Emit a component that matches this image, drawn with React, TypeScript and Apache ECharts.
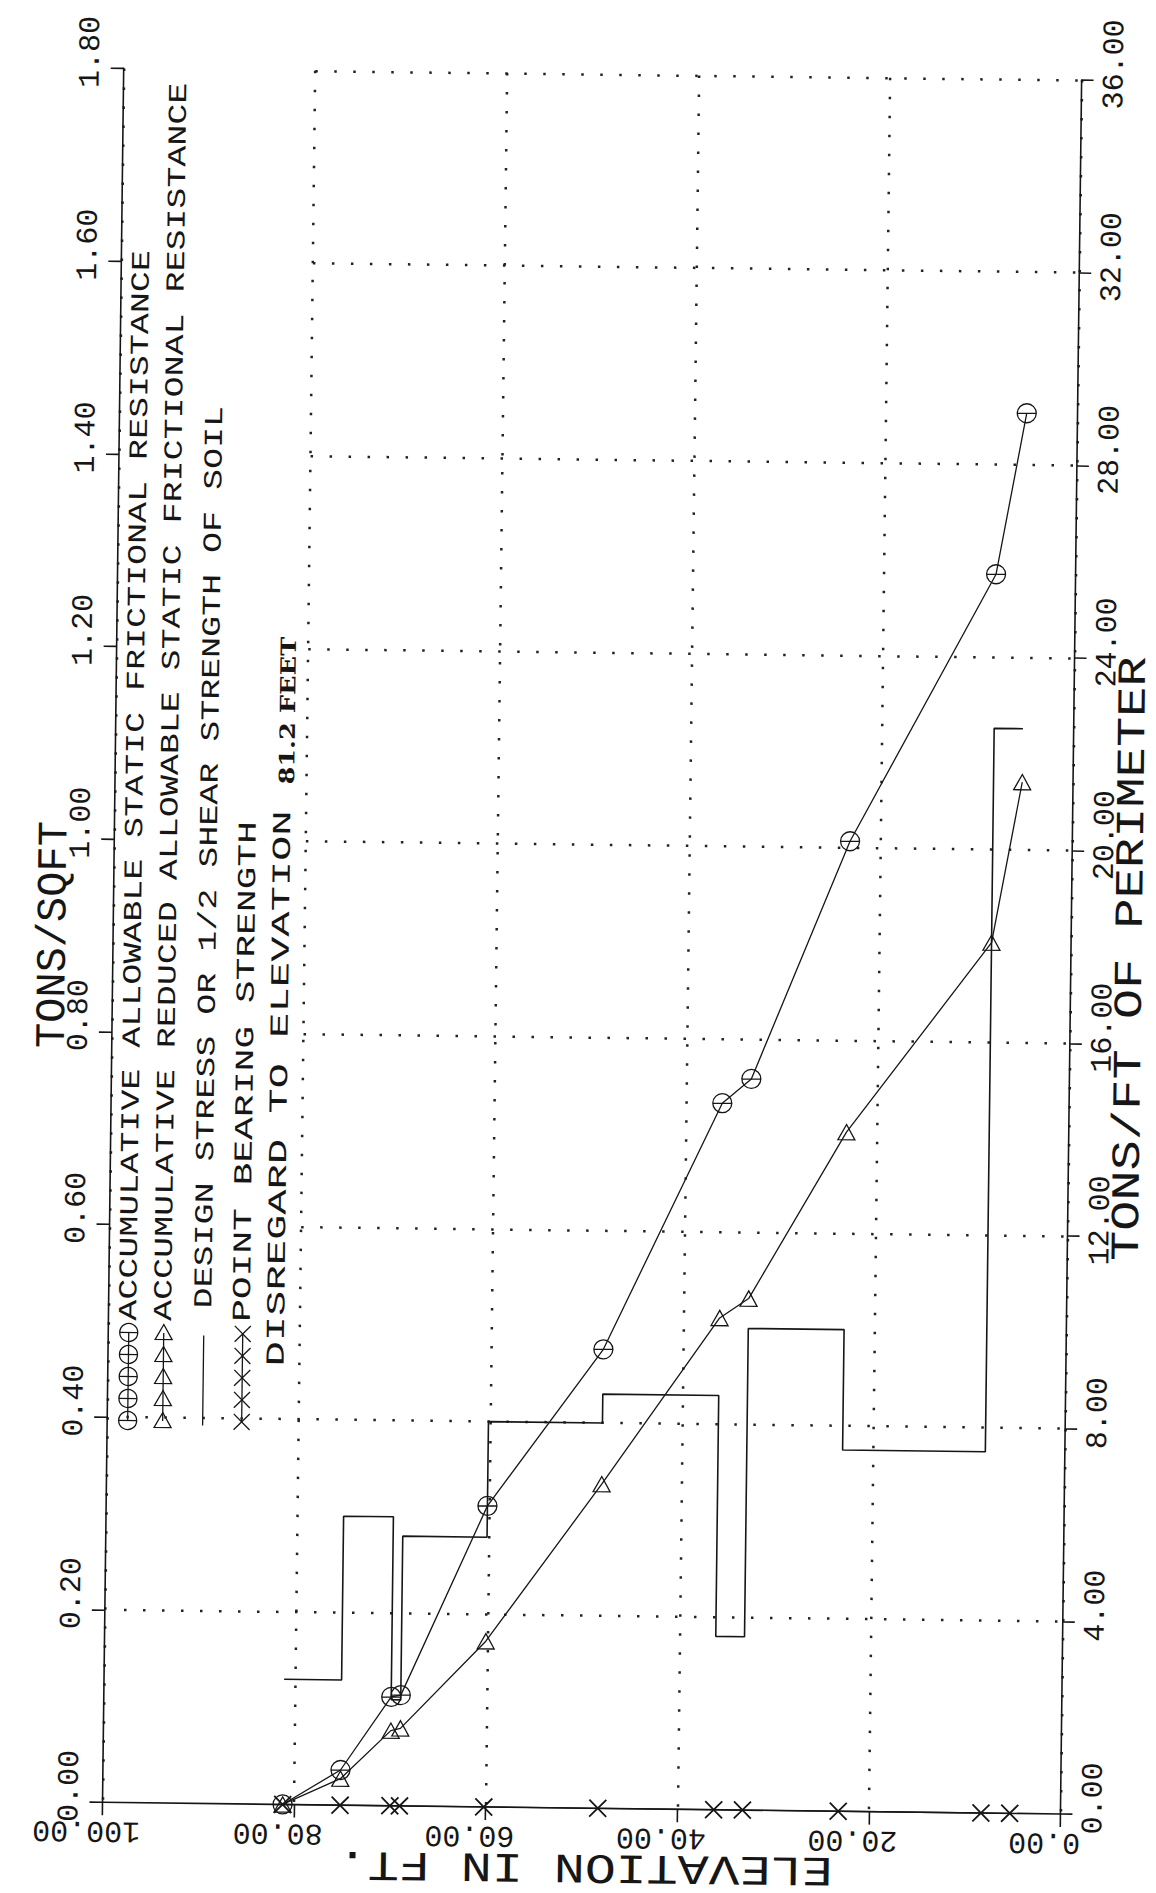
import React, { useEffect, useRef } from "react";
import * as echarts from "echarts";

// ---- data ----
// elevations (ft) of the computed layer boundaries
const elevations = [81.2, 75.2, 70.0, 69.0, 60.2, 48.3, 36.2, 33.2, 23.2, 8.3, 5.3];
// accumulative allowable static frictional resistance (tons/ft of perimeter)
const allowableFriction = [0, 0.73, 2.26, 2.3, 6.25, 9.53, 14.67, 15.18, 20.14, 25.72, 29.07];
// accumulative reduced allowable static frictional resistance (tons/ft of perimeter)
const reducedFriction = [0, 0.55, 1.56, 1.61, 3.44, 6.73, 10.21, 10.62, 14.1, 18.07, 21.41];
// point bearing strength (tons/ft of perimeter)
const pointBearing = [0, 0, 0, 0, 0, 0, 0, 0, 0, 0, 0];
// design stress or 1/2 shear strength of soil (tons/sqft), one value per layer
const designStress = [0.13, 0.3, 0.11, 0.28, 0.4, 0.43, 0.18, 0.5, 0.375, 1.126];

// ---- axes ----
const elevationTicks = [0, 20, 40, 60, 80, 100];
const perimeterTicks = [0, 4, 8, 12, 16, 20, 24, 28, 32, 36];
const sqftTicks = [0, 0.2, 0.4, 0.6, 0.8, 1.0, 1.2, 1.4, 1.6, 1.8];
const longGridRows = [4, 8];
const shortGridRows = [12, 16, 20, 24, 28, 32, 36];
const longRowStart = 98;
const shortRowStart = 80;

// ---- texts ----
const legendLabels = [
  "ACCUMULATIVE ALLOWABLE STATIC FRICTIONAL RESISTANCE",
  "ACCUMULATIVE REDUCED ALLOWABLE STATIC FRICTIONAL RESISTANCE",
  "DESIGN STRESS OR 1/2 SHEAR STRENGTH OF SOIL",
  "POINT BEARING STRENGTH",
];
const noteText = "DISREGARD TO ELEVATION";
const noteValue = "81.2 FEET";
const leftTitle = "TONS/SQFT";
const rightTitle = "TONS/FT OF PERIMETER";
const bottomTitle = "ELEVATION IN FT.";

const INK = "#161616";
const MONO = '"Liberation Mono", "DejaVu Sans Mono", monospace';

const CIRCLE_SYM = "path://M0,10A10,10,0,1,1,20,10A10,10,0,1,1,0,10ZM0,10L20,10";
const TRI_SYM = "path://M10,0L20,18L0,18Z";
const X_SYM = "path://M0,0L20,20M20,0L0,20";

function fmt(v: number) {
  return Number(v).toFixed(2);
}

function vText(x: number, y: number, text: string, fontSize: number, scale: number, align: string, family = MONO, weight = "normal", rot = Math.PI / 2) {
  return {
    type: "text",
    x,
    y,
    rotation: rot,
    scaleX: scale,
    silent: true,
    style: {
      text,
      fontSize,
      fontFamily: family,
      fontWeight: weight,
      fill: INK,
      align,
      verticalAlign: "middle",
      textAlign: align,
      textVerticalAlign: "middle",
    },
  };
}

function buildGraphic() {
  const els: any[] = [];
  const lineX = [133.5, 168.5, 208.5, 247.5, 282];
  const symY = [1426, 1404, 1382, 1360, 1338];
  const textStart = [1326, 1326, 1313, 1326];
  const textScale = [1.346, 1.346, 1.346, 1.46];
  const stroke = { stroke: INK, lineWidth: 1.3, fill: "none" };

  // line 1: circles
  els.push({ type: "line", silent: true, shape: { x1: lineX[0], y1: symY[0], x2: lineX[0], y2: symY[4] }, style: stroke });
  symY.forEach((cy) => {
    els.push({ type: "circle", silent: true, shape: { cx: lineX[0], cy, r: 9 }, style: stroke });
    els.push({ type: "line", silent: true, shape: { x1: lineX[0] - 9, y1: cy, x2: lineX[0] + 9, y2: cy }, style: stroke });
  });
  // line 2: triangles
  els.push({ type: "line", silent: true, shape: { x1: lineX[1], y1: symY[0], x2: lineX[1], y2: symY[4] }, style: stroke });
  symY.forEach((cy) => {
    els.push({
      type: "polygon",
      silent: true,
      shape: { points: [[lineX[1], cy - 8.5], [lineX[1] + 8.5, cy + 6.5], [lineX[1] - 8.5, cy + 6.5]] },
      style: stroke,
    });
  });
  // line 3: solid line
  els.push({ type: "line", silent: true, shape: { x1: lineX[2], y1: 1430, x2: lineX[2], y2: 1340 }, style: stroke });
  // line 4: crosses
  els.push({ type: "line", silent: true, shape: { x1: lineX[3], y1: symY[0], x2: lineX[3], y2: symY[4] }, style: stroke });
  symY.forEach((cy) => {
    els.push({ type: "line", silent: true, shape: { x1: lineX[3] - 8, y1: cy - 8, x2: lineX[3] + 8, y2: cy + 8 }, style: stroke });
    els.push({ type: "line", silent: true, shape: { x1: lineX[3] + 8, y1: cy - 8, x2: lineX[3] - 8, y2: cy + 8 }, style: stroke });
  });

  legendLabels.forEach((t, i) => {
    els.push(vText(lineX[i], textStart[i], t, 26, textScale[i], "left"));
  });
  els.push(vText(lineX[4], 1370, noteText, 26, 1.62, "left"));
  els.push(vText(lineX[4] + 3, 788, noteValue, 21, 1.22, "left", '"DejaVu Serif", serif', "bold"));

  // axis titles
  els.push(vText(54, 941, leftTitle, 42, 1.0, "center"));
  els.push(vText(1131, 952, rightTitle, 40, 1.26, "center"));
  els.push(vText(596, 1866, bottomTitle, 42, 1.23, "center", MONO, "normal", Math.PI));
  return els;
}

function buildOption() {
  const allowData = elevations.map((e, i) => [e, allowableFriction[i]]);
  const reducedData = elevations.map((e, i) => [e, reducedFriction[i]]);
  const bearingData = elevations.map((e, i) => [e, pointBearing[i]]);
  const stressData: number[][] = [];
  designStress.forEach((v, i) => {
    stressData.push([elevations[i], v]);
    stressData.push([elevations[i + 1], v]);
  });

  const dotted = { type: [2.5, 16.5], width: 2.5, color: "#222", cap: "butt" };
  const rowLines = [
    ...longGridRows.map((v) => [{ coord: [longRowStart, v] }, { coord: [0, v] }]),
    ...shortGridRows.map((v) => [{ coord: [shortRowStart, v] }, { coord: [0, v] }]),
  ];

  const axisLineStyle = { color: INK, width: 1.6 };
  const labelCommon = { fontFamily: MONO, fontSize: 30, color: INK, padding: [0, 0, 0, 32], formatter: fmt };

  const symbolItem = { color: "rgba(0,0,0,0)", borderColor: INK, borderWidth: 1.3 };

  return {
    animation: false,
    backgroundColor: "#ffffff",
    grid: { left: 113, right: 85, top: 74, bottom: 85, containLabel: false },
    xAxis: {
      type: "value",
      min: elevationTicks[0],
      max: elevationTicks[elevationTicks.length - 1],
      interval: elevationTicks[1] - elevationTicks[0],
      inverse: true,
      position: "bottom",
      axisLine: { show: true, onZero: false, lineStyle: axisLineStyle },
      axisTick: { show: true, length: 13, lineStyle: axisLineStyle },
      axisLabel: { ...labelCommon, rotate: 180, margin: 13 },
      splitLine: { show: true, lineStyle: dotted },
    },
    yAxis: [
      {
        type: "value",
        position: "left",
        min: sqftTicks[0],
        max: sqftTicks[sqftTicks.length - 1],
        interval: 0.2,
        axisLine: { show: true, onZero: false, lineStyle: axisLineStyle },
        axisTick: { show: true, length: 13, lineStyle: axisLineStyle },
        axisLabel: { ...labelCommon, rotate: 90, margin: 18 },
        splitLine: { show: false },
      },
      {
        type: "value",
        position: "right",
        min: perimeterTicks[0],
        max: perimeterTicks[perimeterTicks.length - 1],
        interval: perimeterTicks[1] - perimeterTicks[0],
        axisLine: { show: true, onZero: false, lineStyle: axisLineStyle },
        axisTick: { show: true, length: 12, lineStyle: axisLineStyle },
        axisLabel: { ...labelCommon, rotate: 90, margin: 18 },
        splitLine: { show: false },
      },
    ],
    series: [
      {
        name: "Design stress",
        type: "line",
        xAxisIndex: 0,
        yAxisIndex: 0,
        data: stressData,
        symbol: "none",
        clip: false,
        lineStyle: { color: INK, width: 1.6 },
        z: 3,
      },
      {
        name: "Allowable friction",
        type: "line",
        xAxisIndex: 0,
        yAxisIndex: 1,
        data: allowData,
        symbol: CIRCLE_SYM,
        symbolSize: 19,
        symbolKeepAspect: true,
        showAllSymbol: true,
        clip: false,
        color: INK,
        lineStyle: { color: INK, width: 1.3 },
        itemStyle: symbolItem,
        z: 4,
      },
      {
        name: "Reduced friction",
        type: "line",
        xAxisIndex: 0,
        yAxisIndex: 1,
        data: reducedData,
        symbol: TRI_SYM,
        symbolSize: 17,
        symbolKeepAspect: true,
        showAllSymbol: true,
        clip: false,
        color: INK,
        lineStyle: { color: INK, width: 1.3 },
        itemStyle: symbolItem,
        z: 4,
      },
      {
        name: "Point bearing",
        type: "line",
        xAxisIndex: 0,
        yAxisIndex: 1,
        data: bearingData,
        symbol: X_SYM,
        symbolSize: 17,
        showAllSymbol: true,
        clip: false,
        color: INK,
        lineStyle: { color: INK, width: 1.3 },
        itemStyle: { color: "rgba(0,0,0,0)", borderColor: INK, borderWidth: 1.8 },
        z: 4,
        markLine: {
          silent: true,
          symbol: ["none", "none"],
          label: { show: false },
          lineStyle: dotted,
          emphasis: { disabled: true },
          data: rowLines,
          z: 1,
        },
      },
    ],
    graphic: { elements: buildGraphic() },
  };
}

export default function App() {
  const ref = useRef<HTMLDivElement>(null);
  useEffect(() => {
    if (!ref.current) return;
    const chart = echarts.init(ref.current, undefined, { renderer: "svg" });
    chart.setOption(buildOption() as any);
    return () => chart.dispose();
  }, []);
  return (
    <div style={{ position: "fixed", left: 0, top: 0, width: 1156, height: 1893, overflow: "hidden", background: "#fff" }}>
      <div
        ref={ref}
        style={{ width: 1156, height: 1893, transform: "rotate(0.7deg)", transformOrigin: "578px 946px" }}
      />
    </div>
  );
}
